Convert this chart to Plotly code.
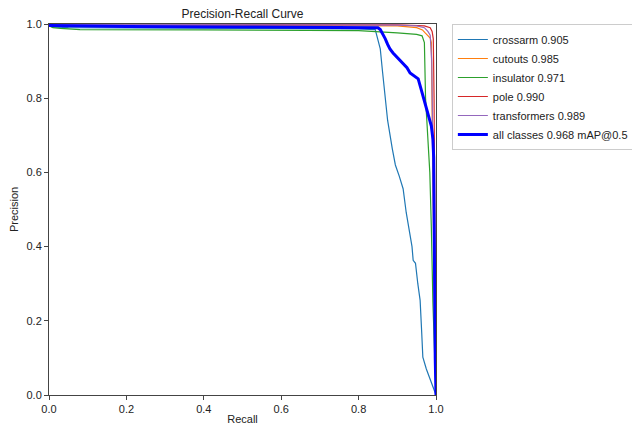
import plotly.graph_objects as go

# ---- data ----
crossarm_r = [0, 0.01, 0.05, 0.3, 0.6, 0.80, 0.843, 0.850, 0.856, 0.862, 0.868, 0.875, 0.887, 0.895,
              0.905, 0.915, 0.923, 0.928, 0.933, 0.938, 0.941, 0.947, 0.953, 0.959, 0.963, 0.966, 0.975, 1.0]
crossarm_p = [0.996, 0.992, 0.99, 0.989, 0.988, 0.987, 0.985, 0.96, 0.933, 0.87, 0.80, 0.74, 0.664, 0.62,
              0.59, 0.556, 0.492, 0.46, 0.435, 0.40, 0.363, 0.355, 0.30, 0.255, 0.17, 0.102, 0.07, 0.0]

cutouts_r = [0, 0.3, 0.7, 0.9, 0.95, 0.965, 0.972, 0.980, 0.985, 0.988, 0.990, 0.993, 0.996, 1.0]
cutouts_p = [0.998, 0.997, 0.996, 0.995, 0.99, 0.984, 0.976, 0.968, 0.962, 0.95, 0.8, 0.5, 0.2, 0.0]

insulator_r = [0, 0.01, 0.03, 0.08, 0.4, 0.8, 0.9, 0.95, 0.964, 0.970, 0.973, 0.978, 0.984, 0.988, 0.992, 1.0]
insulator_p = [0.995, 0.99, 0.988, 0.985, 0.984, 0.982, 0.976, 0.972, 0.968, 0.95, 0.80, 0.70, 0.60, 0.45, 0.25, 0.0]

pole_r = [0, 0.5, 0.9, 0.97, 0.985, 0.990, 0.993, 0.995, 0.997, 0.999, 1.0]
pole_p = [0.999, 0.998, 0.998, 0.995, 0.99, 0.98, 0.96, 0.8, 0.5, 0.2, 0.0]

transformers_r = [0, 0.5, 0.9, 0.95, 0.97, 0.979, 0.985, 0.989, 0.992, 0.995, 0.998, 1.0]
transformers_p = [0.999, 0.998, 0.997, 0.995, 0.99, 0.98, 0.97, 0.9, 0.7, 0.4, 0.1, 0.0]

all_r = [0, 0.2, 0.5, 0.8, 0.85, 0.856, 0.862, 0.869, 0.875, 0.881, 0.889, 0.90, 0.915, 0.925, 0.933,
         0.945, 0.954, 0.960, 0.968, 0.976, 0.982, 0.988, 0.992, 0.994, 0.995, 0.996, 0.998, 1.0]
all_p = [0.996, 0.993, 0.992, 0.991, 0.99, 0.985, 0.975, 0.96, 0.945, 0.933, 0.922, 0.91, 0.895, 0.882, 0.868,
         0.86, 0.852, 0.83, 0.80, 0.77, 0.745, 0.725, 0.69, 0.64, 0.5, 0.3, 0.1, 0.0]

names = ["crossarm 0.905", "cutouts 0.985", "insulator 0.971", "pole 0.990", "transformers 0.989"]
colors = ["#1f77b4", "#ff7f0e", "#2ca02c", "#d62728", "#9467bd"]
series = [(crossarm_r, crossarm_p), (cutouts_r, cutouts_p), (insulator_r, insulator_p),
          (pole_r, pole_p), (transformers_r, transformers_p)]

FONT = "Liberation Sans, Arial, sans-serif"

# the page body adds an 8px offset; the figure is sized to fit the 640x425 window
W, H = 632, 417
L, R, T, B = 41, 204, 16, 30

fig = go.Figure()
for (r, p), n, c in zip(series, names, colors):
    fig.add_trace(go.Scatter(x=r, y=p, mode="lines", name=n, line=dict(color=c, width=1.2)))
fig.add_trace(go.Scatter(x=all_r, y=all_p, mode="lines", name="all classes 0.968 mAP@0.5",
                         line=dict(color="blue", width=3)))

axis_common = dict(range=[0, 1], dtick=0.2, tickformat=".1f", showgrid=False, zeroline=False,
                   showline=True, linecolor="#444", linewidth=1, mirror=True, automargin=False,
                   ticks="outside", ticklen=4, tickwidth=1, tickcolor="#444",
                   tickfont=dict(family=FONT, size=11, color="#222"))

fig.update_layout(
    width=W, height=H,
    margin=dict(l=L, r=R, t=T, b=B, autoexpand=False),
    paper_bgcolor="white", plot_bgcolor="white",
    font=dict(family=FONT, size=11, color="#222"),
    title=dict(text="Precision-Recall Curve", x=(L + (W - R)) / 2 / W, xanchor="center",
               y=1 - 6 / H, yanchor="middle", font=dict(size=12, family=FONT, color="#222")),
    xaxis=dict(axis_common, title=dict(text="Recall", standoff=2, font=dict(size=11, family=FONT))),
    yaxis=dict(axis_common, title=dict(text="Precision", standoff=6, font=dict(size=11, family=FONT))),
    legend=dict(x=1.041, y=1.0, xanchor="left", yanchor="top", bgcolor="white",
                bordercolor="#cccccc", borderwidth=1, font=dict(size=11, family=FONT, color="#222"),
                tracegroupgap=0),
)

fig.write_html("out.html")
